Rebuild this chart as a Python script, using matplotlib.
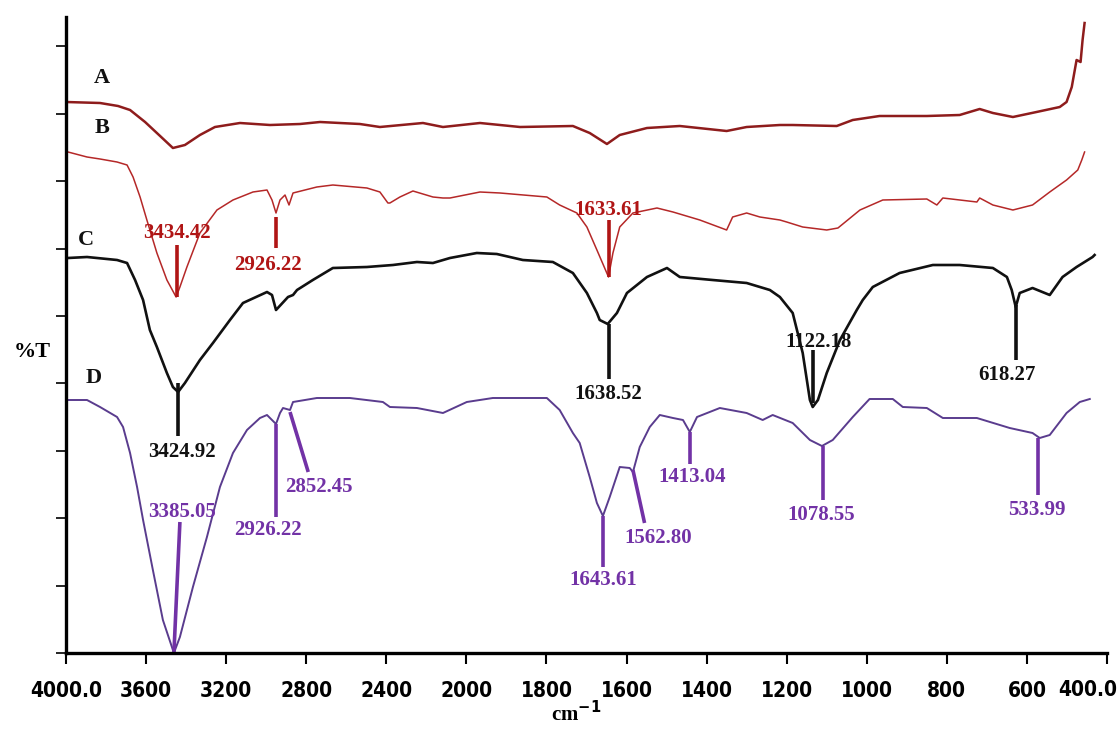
import numpy as np
import matplotlib.pyplot as plt
from matplotlib import font_manager, transforms

# FTIR spectra, wavenumber [cm-1] vs. height of trace above the x-axis (arbitrary %T units)
wn_A = [4000, 3830, 3740, 3680, 3605, 3530, 3466, 3406, 3331, 3256, 3131, 2981, 2831, 2731,
        2532, 2432, 2217, 2117, 1966, 1866, 1734, 1692, 1649, 1617, 1549, 1467, 1350, 1300,
        1217, 1185, 1075, 1035, 968, 850, 768, 718, 685, 635, 576, 518, 501, 488, 476, 466,
        461, 456]
t_A = [551, 550, 547, 543, 531, 517, 505, 508, 518, 526, 530, 528, 529, 531,
       529, 526, 530, 526, 530, 526, 527, 520, 509, 518, 525, 527, 522, 526,
       528, 528, 527, 533, 537, 537, 538, 544, 540, 536, 541, 546, 551, 566, 593, 591,
       613, 630]

wn_B = [3990, 3895, 3830, 3745, 3695, 3665, 3630, 3596, 3546, 3496, 3450, 3431, 3396, 3331,
        3246, 3166, 3066, 2996, 2971, 2951, 2931, 2906, 2886, 2866, 2747, 2667, 2497, 2432,
        2392, 2382, 2332, 2267, 2167, 2117, 2082, 1966, 1916, 1799, 1767, 1724, 1699, 1674,
        1645, 1634, 1617, 1584, 1524, 1484, 1417, 1350, 1335, 1300, 1267, 1217, 1200, 1160,
        1100, 1072, 1017, 960, 850, 825, 810, 725, 718, 685, 635, 586, 543, 501, 473, 463, 456]
t_B = [501, 496, 494, 491, 488, 476, 456, 433, 400, 373, 356, 366, 386, 420,
       443, 453, 461, 463, 453, 440, 453, 458, 448, 460, 466, 468, 465, 461,
       450, 450, 456, 462, 456, 455, 455, 461, 460, 456, 448, 440, 426, 403,
       376, 400, 426, 440, 445, 441, 433, 423, 436, 440, 436, 433, 431, 426,
       423, 425, 443, 453, 454, 448, 455, 451, 455, 448, 443, 448, 461, 473, 483, 493, 501]

wn_C = [3990, 3895, 3745, 3695, 3655, 3615, 3581, 3546, 3496, 3466, 3440, 3406, 3331, 3266,
        3181, 3116, 2996, 2971, 2951, 2891, 2866, 2846, 2767, 2667, 2497, 2367, 2247, 2167,
        2082, 1974, 1924, 1859, 1784, 1734, 1699, 1674, 1667, 1647, 1624, 1599, 1549, 1499,
        1467, 1385, 1300, 1242, 1217, 1185, 1160, 1142, 1135, 1122, 1100, 1067, 1025, 1010,
        985, 918, 835, 768, 685, 650, 638, 628, 618, 586, 543, 511, 476, 436, 431]
t_C = [395, 396, 393, 390, 373, 353, 323, 306, 280, 266, 261, 270, 293, 310,
       333, 350, 361, 358, 343, 356, 358, 363, 373, 385, 386, 388, 391, 390,
       395, 400, 399, 393, 391, 380, 360, 340, 333, 329, 340, 360, 376, 385,
       376, 373, 370, 363, 356, 340, 300, 253, 246, 253, 280, 313, 343, 353,
       366, 380, 388, 388, 385, 376, 363, 346, 360, 365, 358, 376, 386, 396, 398]

wn_D = [3990, 3895, 3830, 3745, 3715, 3680, 3645, 3615, 3566, 3516, 3461, 3431, 3366, 3296,
        3231, 3166, 3096, 3031, 2996, 2971, 2951, 2931, 2916, 2881, 2866, 2747, 2582, 2417,
        2382, 2247, 2117, 1999, 1934, 1799, 1767, 1734, 1717, 1692, 1674, 1659, 1642, 1617,
        1592, 1584, 1567, 1542, 1517, 1484, 1459, 1442, 1424, 1367, 1300, 1260, 1235, 1185,
        1142, 1112, 1085, 1035, 993, 935, 910, 850, 810, 725, 643, 586, 568, 543, 501, 468, 443]
t_D = [253, 253, 246, 236, 226, 200, 166, 133, 83, 33, 0, 16, 66, 116,
       166, 200, 223, 235, 238, 233, 229, 240, 245, 243, 251, 255, 255, 251,
       246, 245, 240, 251, 255, 255, 243, 220, 210, 176, 150, 137, 156, 186,
       185, 181, 206, 226, 238, 235, 233, 221, 236, 245, 240, 233, 238, 230,
       213, 207, 213, 236, 254, 254, 246, 245, 235, 235, 225, 220, 215, 218, 240, 251, 254]

# peak labels: (text, wavenumber of the marker line)
peaks_B = [("3434.42", 3446), ("2926.22", 2951), ("1633.61", 1645)]
peaks_C = [("3424.92", 3440), ("1638.52", 1645), ("1122.18", 1135), ("618.27", 628)]
peaks_D = [("3385.05", 3431), ("2926.22", 2951), ("2852.45", 2881), ("1643.61", 1659),
           ("1562.80", 1584), ("1413.04", 1442), ("1078.55", 1110), ("533.99", 572)]

xticks = [4000, 3600, 3200, 2800, 2400, 2000, 1800, 1600, 1400, 1200, 1000, 800, 600, 400]
xtick_labels = ["4000.0", "3600", "3200", "2800", "2400", "2000", "1800", "1600", "1400",
                "1200", "1000", "800", "600", "400.0"]


# spectrometer axis: 200 cm-1 per division below 2000, 400 cm-1 per division above
def fwd(w):
    w = np.asarray(w, dtype=float)
    return np.where(w <= 2000, (w - 400) / 200, 8 + (w - 2000) / 400)


def inv(u):
    u = np.asarray(u, dtype=float)
    return np.where(u <= 8, 400 + 200 * u, 2000 + 400 * (u - 8))


# narrow font for the x tick labels, if one is installed
narrow = None
rank = {"ultra-condensed": 0, "extra-condensed": 1, "condensed": 2, "semi-condensed": 3}
cands = [f for f in font_manager.fontManager.ttflist
         if str(f.stretch) in rank and "Mono" not in f.name and "Serif" not in f.name
         and f.style == "normal"]
if cands:
    cands.sort(key=lambda f: (rank[str(f.stretch)],
                              abs((f.weight if isinstance(f.weight, int) else 400) - 700)))
    narrow = font_manager.FontProperties(fname=cands[0].fname, size=15)
else:
    narrow = font_manager.FontProperties(family="Liberation Sans", weight="bold", size=12)

fig = plt.figure(figsize=(11.2, 7.43), dpi=100)
ax = fig.add_axes([66 / 1120, 90 / 743, 1041 / 1120, 636 / 743])
ax.set_xscale("function", functions=(fwd, inv))
ax.set_xlim(4000, 400)
ax.set_ylim(0, 636)

col_A = "#8e1c1c"
col_B = "#b52828"
col_C = "#111111"
col_D = "#5a3c8e"
lab_B = "#b01515"
lab_D = "#7232a6"

ax.plot(wn_A, t_A, color=col_A, lw=1.8)
ax.plot(wn_B, t_B, color=col_B, lw=1.1)
ax.plot(wn_C, t_C, color=col_C, lw=1.9)
ax.plot(wn_D, t_D, color=col_D, lw=1.4)

serif = ["Liberation Serif", "DejaVu Serif"]
fs = 15


def mark(wn, y1, y2, txt, ty, color, wn2=None, tx=None):
    ax.plot([wn, wn if wn2 is None else wn2], [y1, y2], color=color, lw=2.6,
            solid_capstyle="butt")
    ax.text(wn if tx is None else tx, ty, txt, color=color, fontsize=fs,
            fontweight="bold", family=serif, ha="center", va="center")


# B labels
mark(peaks_B[0][1], 408, 356, peaks_B[0][0], 420, lab_B)
mark(peaks_B[1][1], 436, 405, peaks_B[1][0], 388, lab_B, tx=2990)
mark(peaks_B[2][1], 433, 376, peaks_B[2][0], 443, lab_B)
# C labels
mark(peaks_C[0][1], 270, 217, peaks_C[0][0], 201, col_C, tx=3420)
mark(peaks_C[1][1], 329, 274, peaks_C[1][0], 259, col_C)
mark(peaks_C[2][1], 303, 250, peaks_C[2][0], 311, col_C, tx=1120)
mark(peaks_C[3][1], 348, 293, peaks_C[3][0], 278, col_C, tx=650)
# D labels
mark(peaks_D[0][1], 131, 0, peaks_D[0][0], 141, lab_D, wn2=3461, tx=3420)
mark(peaks_D[1][1], 229, 136, peaks_D[1][0], 123, lab_D, tx=2990)
mark(peaks_D[2][1], 241, 181, peaks_D[2][0], 166, lab_D, wn2=2790, tx=2735)
mark(peaks_D[3][1], 137, 86, peaks_D[3][0], 73, lab_D)
mark(peaks_D[4][1], 183, 130, peaks_D[4][0], 115, lab_D, wn2=1555, tx=1520)
mark(peaks_D[5][1], 221, 189, peaks_D[5][0], 176, lab_D, tx=1437)
mark(peaks_D[6][1], 207, 153, peaks_D[6][0], 138, lab_D, tx=1115)
mark(peaks_D[7][1], 215, 158, peaks_D[7][0], 143, lab_D, tx=575)

# trace letters
for txt, w, y in [("A", 3820, 575), ("B", 3820, 525), ("C", 3900, 413), ("D", 3860, 275)]:
    ax.text(w, y, txt, fontsize=16, fontweight="bold", family=serif, ha="center",
            va="center", color="#111111")

ax.spines["top"].set_visible(False)
ax.spines["right"].set_visible(False)
ax.spines["left"].set_linewidth(2.4)
ax.spines["bottom"].set_linewidth(2.4)

ax.set_xticks(xticks)
ax.set_xticklabels(xtick_labels[:-1] + [""], fontproperties=narrow)
ax.xaxis.set_minor_locator(plt.NullLocator())
ax.tick_params(axis="x", direction="out", length=8, width=1.5, pad=12)
ax.set_yticks(np.arange(0, 636, 67.4))
ax.tick_params(axis="y", direction="out", length=7, width=1.2, labelleft=False)

# last tick label pushed against the right edge so it is not cut off
lab_tr = transforms.offset_copy(ax.get_xaxis_transform(), fig=fig, x=10, y=-37,
                                units="dots")
ax.text(xticks[-1], 0, xtick_labels[-1], fontproperties=narrow, ha="right",
        va="center", transform=lab_tr, clip_on=False)

fig.text(576 / 1120, 1 - 714 / 743, "cm$^{\\mathbf{-1}}$", fontsize=15, fontweight="bold",
         family=serif, ha="center", va="center")
fig.text(32 / 1120, 1 - 352 / 743, "%T", fontsize=16, fontweight="bold", family=serif,
         ha="center", va="center")

plt.savefig("out.png", dpi=100)
